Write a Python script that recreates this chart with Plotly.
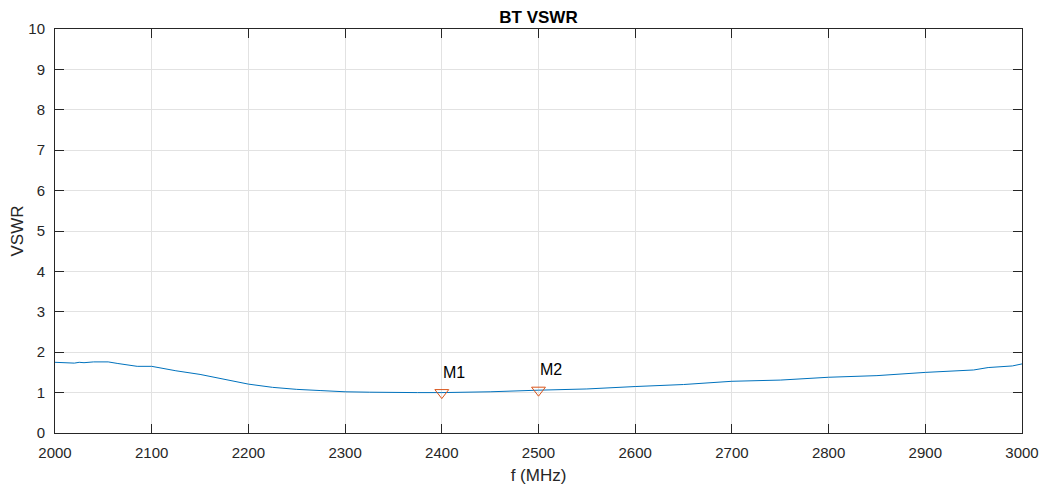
import plotly.graph_objects as go

freq = [2000, 2010, 2020, 2025, 2030, 2040, 2055, 2065, 2075, 2085, 2100, 2110, 2125,
        2150, 2175, 2200, 2225, 2250, 2275, 2300, 2325, 2350, 2375, 2400, 2450, 2500,
        2550, 2600, 2650, 2700, 2750, 2800, 2850, 2900, 2950, 2965, 2990, 3000]
vswr = [1.75, 1.74, 1.73, 1.75, 1.74, 1.76, 1.76, 1.72, 1.69, 1.65, 1.65, 1.60, 1.54,
        1.45, 1.33, 1.21, 1.13, 1.08, 1.05, 1.02, 1.01, 1.00, 1.00, 1.00, 1.02, 1.06,
        1.09, 1.15, 1.20, 1.28, 1.31, 1.38, 1.42, 1.50, 1.56, 1.62, 1.66, 1.71]

marker_names = ["M1", "M2"]
marker_freq = [2400, 2500]
marker_vswr = [1.00, 1.06]

x_ticks = [2000, 2100, 2200, 2300, 2400, 2500, 2600, 2700, 2800, 2900, 3000]
y_ticks = [0, 1, 2, 3, 4, 5, 6, 7, 8, 9, 10]

FONT = "Liberation Sans, Arial, sans-serif"
AX = "#262626"

fig = go.Figure()
fig.add_trace(go.Scatter(x=freq, y=vswr, mode="lines",
                         line=dict(color="#0072BD", width=1), showlegend=False,
                         hoverinfo="skip"))
fig.add_trace(go.Scatter(x=marker_freq, y=marker_vswr, mode="markers",
                         marker=dict(symbol="triangle-down-open", size=12,
                                     color="#D95319", line=dict(width=1, color="#D95319")),
                         showlegend=False))

for n, fx, fy in zip(marker_names, marker_freq, marker_vswr):
    fig.add_annotation(x=fx, y=fy + 0.5, text=n, showarrow=False,
                       xanchor="left", yanchor="middle", xshift=-1,
                       font=dict(family=FONT, size=16, color="#000000"))

axis_common = dict(showline=True, linecolor=AX, linewidth=1, mirror="ticks",
                   ticks="inside", ticklen=9, tickcolor=AX, tickwidth=1,
                   showgrid=True, gridcolor="#E2E2E2", gridwidth=1, zeroline=False,
                   automargin=False,
                   tickfont=dict(family=FONT, size=15, color=AX))

fig.update_xaxes(range=[2000, 3000], tickvals=x_ticks, ticklabelstandoff=6,
                 title=dict(text="f (MHz)", font=dict(family=FONT, size=17, color=AX), standoff=9),
                 **axis_common)
fig.update_yaxes(range=[0, 10], tickvals=y_ticks, ticklabelstandoff=6,
                 title=dict(text="VSWR", font=dict(family=FONT, size=17, color=AX), standoff=10),
                 **axis_common)

fig.update_layout(
    width=1039, height=479,
    margin=dict(l=47, r=25, t=21, b=54),
    paper_bgcolor="white", plot_bgcolor="white",
    title=dict(text="<b>BT VSWR</b>", x=0.5, xref="paper", xanchor="center",
               y=1, yref="paper", yanchor="bottom", pad=dict(b=6), automargin=False,
               font=dict(family=FONT, size=17, color="#000000")),
    font=dict(family=FONT),
)

fig.write_html("out.html")
